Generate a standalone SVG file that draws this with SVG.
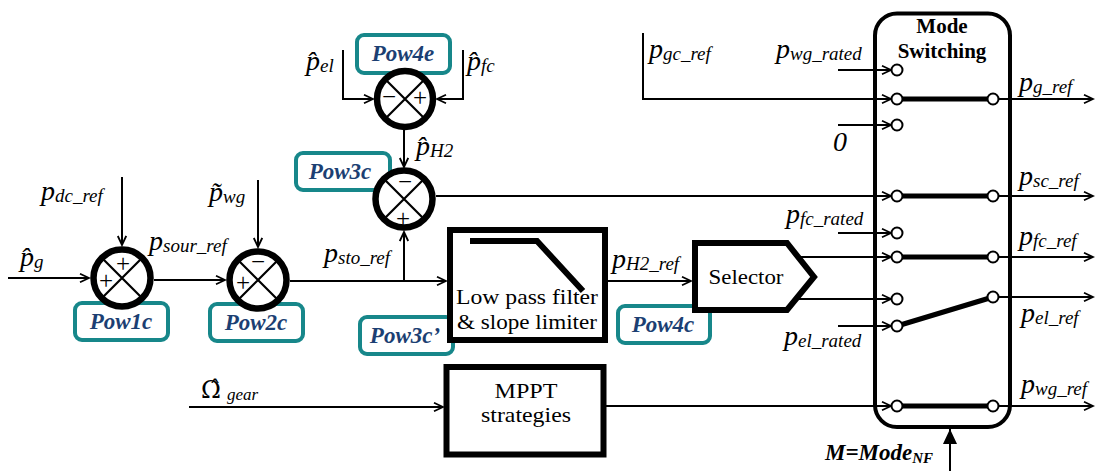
<svg xmlns="http://www.w3.org/2000/svg" width="1096" height="471" viewBox="0 0 1096 471" font-family="Liberation Serif, serif">
<defs>
<style>
.ln{fill:none;stroke:#000;stroke-width:2}
.thk{fill:none;stroke:#000;stroke-width:5}
.sw{fill:#fff;stroke:#000;stroke-width:2}
.sum{fill:#fff;stroke:#000;stroke-width:6.5}
.x{stroke:#000;stroke-width:2.2}
.sg{font-family:"Liberation Serif",serif;font-size:25px;text-anchor:middle}
.tag{fill:#fff;stroke:#17878a;stroke-width:4}
.tagt{font-family:"Liberation Serif",serif;font-style:italic;font-weight:bold;font-size:23px;fill:#1c3f73;text-anchor:middle}
.p{font-family:"Liberation Serif",serif;font-style:italic;font-size:28px}
.s{font-size:19px}
.box{fill:#fff;stroke:#000;stroke-width:6}
.bt{font-family:"Liberation Serif",serif;font-size:21px;text-anchor:middle}
</style>
<marker id="ar" markerUnits="userSpaceOnUse" markerWidth="12" markerHeight="12" refX="10" refY="5" orient="auto">
<path d="M1,0.8 L10,5 L1,9.2" fill="none" stroke="#000" stroke-width="1.8"/>
</marker>
<marker id="arf" markerUnits="userSpaceOnUse" markerWidth="16" markerHeight="16" refX="15" refY="7" orient="auto">
<path d="M0,0 L15,7 L0,14 Z" fill="#000"/>
</marker>
</defs>
<rect width="1096" height="471" fill="#fff"/>

<g id="connectors">
<path class="ln" d="M8,278 H89" marker-end="url(#ar)"/>
<path class="ln" d="M122,177 V245" marker-end="url(#ar)"/>
<path class="ln" d="M154,280 H225" marker-end="url(#ar)"/>
<path class="ln" d="M258,180 V247" marker-end="url(#ar)"/>
<path class="ln" d="M290,281 H446" marker-end="url(#ar)"/>
<path class="ln" d="M404,281 V232" marker-end="url(#ar)"/>
<path class="ln" d="M343,50 V99 H373" marker-end="url(#ar)"/>
<path class="ln" d="M463,50 V99 H437" marker-end="url(#ar)"/>
<path class="ln" d="M404,130 V167" marker-end="url(#ar)"/>
<path class="ln" d="M436,196 H891" marker-end="url(#ar)"/>
<path class="ln" d="M607,281 H691" marker-end="url(#ar)"/>
<path class="ln" d="M189,407 H443" marker-end="url(#ar)"/>
<path class="ln" d="M606,406 H891" marker-end="url(#ar)"/>
<path class="ln" d="M643,33 V99 H891" marker-end="url(#ar)"/>
<path class="ln" d="M838,70 H891" marker-end="url(#ar)"/>
<path class="ln" d="M838,125 H891" marker-end="url(#ar)"/>
<path class="ln" d="M838,233 H891" marker-end="url(#ar)"/>
<path class="ln" d="M798,257 H891" marker-end="url(#ar)"/>
<path class="ln" d="M797,299 H891" marker-end="url(#ar)"/>
<path class="ln" d="M838,326 H891" marker-end="url(#ar)"/>
<path class="ln" d="M999,99 H1093" marker-end="url(#ar)"/>
<path class="ln" d="M999,196 H1093" marker-end="url(#ar)"/>
<path class="ln" d="M999,257 H1093" marker-end="url(#ar)"/>
<path class="ln" d="M999,297 H1093" marker-end="url(#ar)"/>
<path class="ln" d="M999,406 H1093" marker-end="url(#ar)"/>
<path class="ln" d="M950,471 V429" stroke-width="2.5" marker-end="url(#arf)"/>
</g>

<g id="pow1c">
<rect class="tag" x="75" y="303" width="93" height="37" rx="7"/>
<text class="tagt" x="121" y="329">Pow1c</text>
<circle class="sum" cx="122" cy="278" r="28.5"/>
<path class="x" d="M103,259 L141,297 M141,259 L103,297"/>
<text class="sg" x="123" y="272">+</text>
<text class="sg" x="106" y="289">+</text>
</g>

<g id="pow2c">
<rect class="tag" x="210" y="304" width="93" height="37" rx="7"/>
<text class="tagt" x="256" y="330">Pow2c</text>
<circle class="sum" cx="258" cy="280" r="28.5"/>
<path class="x" d="M239,261 L277,299 M277,261 L239,299"/>
<text class="sg" x="258" y="270">−</text>
<text class="sg" x="243" y="291">+</text>
</g>

<g id="pow4e">
<rect class="tag" x="357" y="35" width="93" height="38" rx="7"/>
<text class="tagt" x="403" y="61">Pow4e</text>
<circle class="sum" cx="405" cy="99" r="28"/>
<path class="x" d="M386,80 L424,118 M424,80 L386,118"/>
<text class="sg" x="389" y="105">−</text>
<text class="sg" x="420" y="106">+</text>
</g>

<g id="pow3c">
<rect class="tag" x="296" y="153" width="94" height="37" rx="7"/>
<text class="tagt" x="340" y="179">Pow3c</text>
<circle class="sum" cx="404" cy="199" r="28.5"/>
<path class="x" d="M385,180 L423,218 M423,180 L385,218"/>
<text class="sg" x="405" y="190">−</text>
<text class="sg" x="403" y="227">+</text>
</g>

<g id="lpf">
<rect class="tag" x="360" y="317" width="93" height="37" rx="7"/>
<text class="tagt" x="405" y="343">Pow3c’</text>
<rect class="box" x="450" y="230" width="155" height="110"/>
<path d="M470,241 H537 L583,291" fill="none" stroke="#000" stroke-width="6"/>
<text class="bt" x="527" y="304" textLength="142" lengthAdjust="spacingAndGlyphs">Low pass filter</text>
<text class="bt" x="527" y="329" textLength="140" lengthAdjust="spacingAndGlyphs">&amp; slope limiter</text>
</g>

<g id="selector">
<rect class="tag" x="618" y="306" width="92" height="37" rx="7"/>
<text class="tagt" x="663" y="332">Pow4c</text>
<polygon class="box" points="695,243 787,243 814,277 787,310 695,310"/>
<text class="bt" x="746" y="284" textLength="75" lengthAdjust="spacingAndGlyphs">Selector</text>
</g>

<g id="mppt">
<rect class="box" x="446.5" y="367" width="157" height="87.5" stroke-width="5.5"/>
<text class="bt" x="526" y="398" font-size="23" textLength="63" lengthAdjust="spacingAndGlyphs">MPPT</text>
<text class="bt" x="526" y="422" font-size="23" textLength="90" lengthAdjust="spacingAndGlyphs">strategies</text>
</g>

<g id="mode-switching">
<rect x="875" y="13.5" width="135" height="413.5" rx="22" fill="none" stroke="#000" stroke-width="4"/>
<text class="bt" x="942" y="33" font-weight="bold" font-size="23">Mode</text>
<text class="bt" x="942" y="58" font-weight="bold" font-size="23">Switching</text>
<path class="thk" d="M897,99 H993 M897,196 H993 M897,257 H993 M897,326 L993,297 M897,406 H993"/>
<circle class="sw" cx="897" cy="70" r="5.5"/>
<circle class="sw" cx="897" cy="99" r="5.5"/>
<circle class="sw" cx="897" cy="125" r="5.5"/>
<circle class="sw" cx="897" cy="196" r="5.5"/>
<circle class="sw" cx="897" cy="233" r="5.5"/>
<circle class="sw" cx="897" cy="257" r="5.5"/>
<circle class="sw" cx="897" cy="299" r="5.5"/>
<circle class="sw" cx="897" cy="326" r="5.5"/>
<circle class="sw" cx="897" cy="406" r="5.5"/>
<circle class="sw" cx="993" cy="99" r="5.5"/>
<circle class="sw" cx="993" cy="196" r="5.5"/>
<circle class="sw" cx="993" cy="257" r="5.5"/>
<circle class="sw" cx="993" cy="297" r="5.5"/>
<circle class="sw" cx="993" cy="406" r="5.5"/>
</g>

<g id="labels">
<text class="p" x="20" y="266">p̂<tspan class="s" dy="2">g</tspan></text>
<text class="p" x="41" y="200">p<tspan class="s" dy="2">dc_ref</tspan></text>
<text class="p" x="149" y="250">p<tspan class="s" dy="2">sour_ref</tspan></text>
<text class="p" x="209" y="201">p̃<tspan class="s" dy="2">wg</tspan></text>
<text class="p" x="324" y="262">p<tspan class="s" dy="2">sto_ref</tspan></text>
<text class="p" x="306" y="70">p̂<tspan class="s" dy="2">el</tspan></text>
<text class="p" x="467" y="70">p̂<tspan class="s" dy="2">fc</tspan></text>
<text class="p" x="416" y="155">p̂<tspan class="s" dy="2">H2</tspan></text>
<text class="p" x="612" y="268">p<tspan class="s" dy="2">H2_ref</tspan></text>
<text class="p" x="649" y="58">p<tspan class="s" dy="2">gc_ref</tspan></text>
<text class="p" x="776" y="58">p<tspan class="s" dy="2">wg_rated</tspan></text>
<text class="p" x="833" y="151" font-size="26">0</text>
<text class="p" x="1019" y="91">p<tspan class="s" dy="2">g_ref</tspan></text>
<text class="p" x="1019" y="185">p<tspan class="s" dy="2">sc_ref</tspan></text>
<text class="p" x="786" y="223">p<tspan class="s" dy="2">fc_rated</tspan></text>
<text class="p" x="1019" y="245">p<tspan class="s" dy="2">fc_ref</tspan></text>
<text class="p" x="1021" y="322">p<tspan class="s" dy="2">el_ref</tspan></text>
<text class="p" x="784" y="345">p<tspan class="s" dy="2">el_rated</tspan></text>
<text class="p" x="1021" y="393">p<tspan class="s" dy="2">wg_ref</tspan></text>
<text x="201" y="398" font-family="DejaVu Serif, serif" font-size="24">Ω̂<tspan font-family="Liberation Serif, serif" font-style="italic" font-size="17" dx="6" dy="2">gear</tspan></text>
<text x="825" y="460" font-style="italic" font-weight="bold" font-size="23">M=Mode<tspan font-size="15" dy="3">NF</tspan></text>
</g>
</svg>
